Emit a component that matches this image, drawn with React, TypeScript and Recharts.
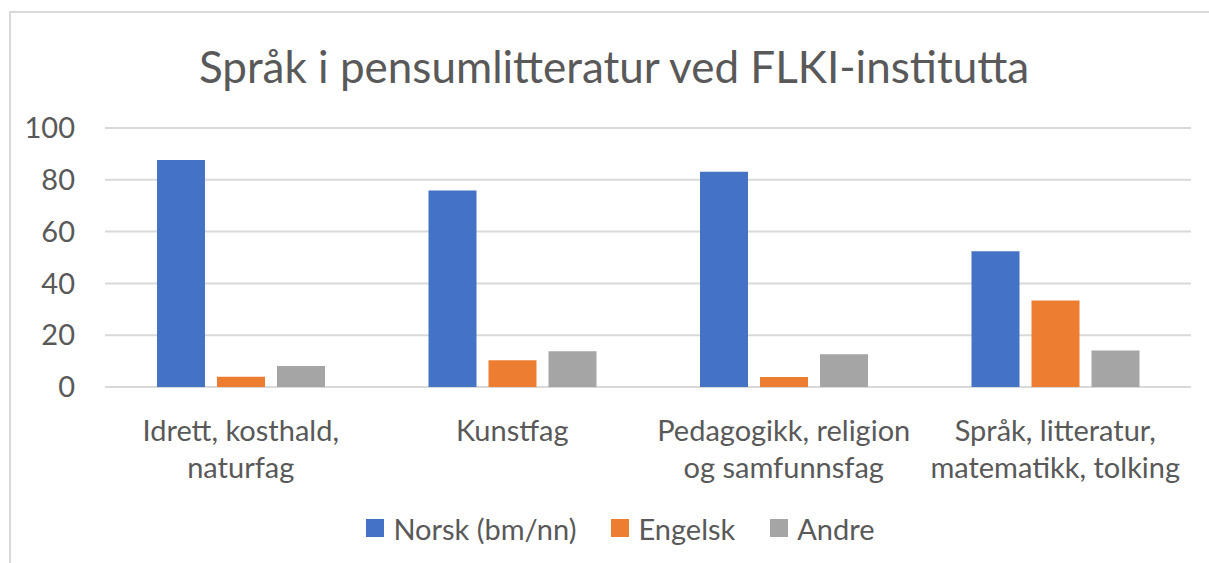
import React from 'react';
import { BarChart, Bar, XAxis, YAxis, CartesianGrid, Legend } from 'recharts';

const categories = [
  'Idrett, kosthald, naturfag',
  'Kunstfag',
  'Pedagogikk, religion og samfunnsfag',
  'Språk, litteratur, matematikk, tolking',
];
const tickLines = [
  ['Idrett, kosthald,', 'naturfag'],
  ['Kunstfag'],
  ['Pedagogikk, religion', 'og samfunnsfag'],
  ['Språk, litteratur,', 'matematikk, tolking'],
];
const norsk = [87.6, 75.9, 83.1, 52.4];
const engelsk = [4.0, 10.3, 3.9, 33.4];
const andre = [8.1, 13.8, 12.6, 14.1];
const yTicks = [0, 20, 40, 60, 80, 100];
const seriesNames = ['Norsk (bm/nn)', 'Engelsk', 'Andre'];
const seriesColors = ['#4472C4', '#ED7D31', '#A5A5A5'];
const title = 'Språk i pensumlitteratur ved FLKI-institutta';

const data = categories.map((c, i) => ({
  category: c,
  idx: i,
  norsk: norsk[i],
  engelsk: engelsk[i],
  andre: andre[i],
}));

const FONT = 'Lato, "Open Sans", sans-serif';
const TEXT = '#595959';

const CatTick = (props: any) => {
  const { x, y, payload } = props;
  const i = categories.indexOf(payload.value);
  const lines = i >= 0 ? tickLines[i] : [String(payload.value)];
  return (
    <g>
      {lines.map((l, k) => (
        <text
          key={k}
          x={x}
          y={y + 46 + k * 37}
          textAnchor="middle"
          fill={TEXT}
          fontSize={29}
          fontFamily={FONT}
        >
          {l}
        </text>
      ))}
    </g>
  );
};

const LegendContent = () => (
  <div
    style={{
      height: 40,
      display: 'flex',
      justifyContent: 'center',
      alignItems: 'center',
      fontFamily: FONT,
      fontSize: 29,
      color: TEXT,
      paddingLeft: 32,
    }}
  >
    {seriesNames.map((n, i) => (
      <div key={n} style={{ display: 'flex', alignItems: 'center', marginRight: i < 2 ? 35 : 0 }}>
        <div style={{ width: 18, height: 18, background: seriesColors[i], marginRight: 9 }} />
        <span>{n}</span>
      </div>
    ))}
  </div>
);

export default function App() {
  return (
    <div style={{ position: 'absolute', left: 0, top: 0, width: 1209, height: 563, background: '#fff' }}>
      <div
        style={{
          position: 'absolute',
          left: 9,
          top: 11,
          width: 1200,
          height: 552,
          borderLeft: '2px solid #d9d9d9',
          borderTop: '2px solid #d9d9d9',
        }}
      />
      <div
        style={{
          position: 'absolute',
          left: 0,
          top: 36,
          width: 1228,
          textAlign: 'center',
          fontFamily: FONT,
          fontSize: 44,
          color: TEXT,
          lineHeight: '60px',
        }}
      >
        {title}
      </div>
      <div style={{ position: 'absolute', left: 0, top: 0 }}>
        <BarChart
          width={1209}
          height={563}
          data={data}
          margin={{ top: 128, right: 18, left: 10, bottom: 15 }}
          barGap={12}
          barSize={48}
        >
          <CartesianGrid vertical={false} stroke="#d9d9d9" strokeWidth={2} />
          <XAxis
            dataKey="category"
            axisLine={false}
            tickLine={false}
            height={121}
            interval={0}
            tick={<CatTick />}
          />
          <YAxis
            domain={[0, 100]}
            ticks={yTicks}
            axisLine={false}
            tickLine={false}
            tickSize={0}
            tickMargin={30}
            width={95}
            tick={{ fill: TEXT, fontSize: 29, fontFamily: FONT }}
          />
          <Legend
            verticalAlign="bottom"
            content={<LegendContent />}
            wrapperStyle={{ left: 0, width: 1209 }}
          />
          <Bar dataKey="norsk" name={seriesNames[0]} fill={seriesColors[0]} isAnimationActive={false} />
          <Bar dataKey="engelsk" name={seriesNames[1]} fill={seriesColors[1]} isAnimationActive={false} />
          <Bar dataKey="andre" name={seriesNames[2]} fill={seriesColors[2]} isAnimationActive={false} />
        </BarChart>
      </div>
    </div>
  );
}
